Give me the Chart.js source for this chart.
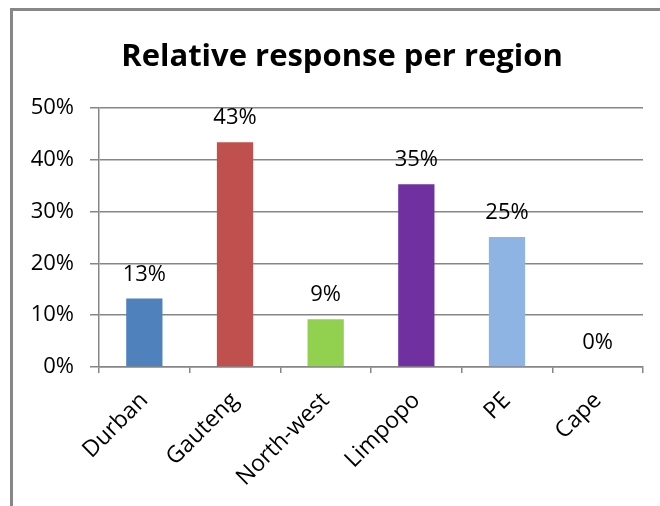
<!DOCTYPE html>
<html>
<head>
<meta charset="utf-8">
<script src="https://cdn.jsdelivr.net/npm/chart.js@4"></script>
<style>
  html, body { margin: 0; padding: 0; background: #fff; }
  #wrap { position: relative; width: 660px; height: 506px; overflow: hidden; }
  #frame {
    position: absolute; left: 10px; top: 8px; width: 700px; height: 600px;
    border: 3px solid #878787; box-sizing: border-box;
  }
  #chart { position: absolute; left: 0; top: 0; }
</style>
</head>
<body>
<div id="wrap">
  <div id="frame"></div>
  <canvas id="chart" width="660" height="506"></canvas>
</div>
<script>
  // regiones y respuesta relativa (fracción)
  const regiones = ["Durban", "Gauteng", "North-west", "Limpopo", "PE", "Cape"];
  const respuesta = [0.132, 0.434, 0.092, 0.353, 0.251, 0];
  const colores = ["#4F81BD", "#C0504D", "#92D050", "#7030A0", "#8DB4E2", "#8DB4E2"];
  const titulo = "Relative response per region";

  const FONT = "'Open Sans', 'Noto Sans', sans-serif";

  function fmtPct(v) {
    return Math.round(v * 100) + "%";
  }

  // título centrado sobre el marco (no sobre el área de trazado)
  const tituloGrafico = {
    id: "tituloGrafico",
    afterDraw(chart) {
      const ctx = chart.ctx;
      ctx.save();
      ctx.font = "bold 31px " + FONT;
      ctx.fillStyle = "#000";
      ctx.textAlign = "center";
      ctx.textBaseline = "alphabetic";
      ctx.fillText(titulo, 342, 66);
      ctx.restore();
    },
  };

  // etiquetas de valor encima de cada barra
  const etiquetasBarra = {
    id: "etiquetasBarra",
    afterDatasetsDraw(chart) {
      const ctx = chart.ctx;
      const meta = chart.getDatasetMeta(0);
      ctx.save();
      ctx.font = "22px " + FONT;
      ctx.fillStyle = "#000";
      ctx.textAlign = "center";
      ctx.textBaseline = "alphabetic";
      meta.data.forEach((bar, i) => {
        ctx.fillText(fmtPct(respuesta[i]), bar.x, bar.y - 18);
      });
      ctx.restore();
    },
  };

  const ctx = document.getElementById("chart").getContext("2d");
  new Chart(ctx, {
    type: "bar",
    data: {
      labels: regiones,
      datasets: [
        {
          data: respuesta,
          backgroundColor: colores,
          borderWidth: 0,
          barPercentage: 0.4,
          categoryPercentage: 1,
        },
      ],
    },
    options: {
      responsive: false,
      animation: false,
      layout: { padding: { left: 12, right: 17, top: 108, bottom: 0 } },
      plugins: {
        legend: { display: false },
        tooltip: { enabled: false },
        title: { display: false },
      },
      scales: {
        x: {
          afterFit: (s) => { s.height = 139; },
          grid: {
            display: true,
            drawOnChartArea: false,
            offset: true,
            color: "#868686",
            tickLength: 6,
            lineWidth: 1.5,
          },
          border: { color: "#868686", width: 1.5 },
          ticks: {
            color: "#000",
            font: { family: FONT, size: 23 },
            maxRotation: 45,
            minRotation: 45,
            padding: 14,
          },
        },
        y: {
          min: 0,
          max: 0.5,
          afterFit: (s) => { s.width = 87; },
          grid: { color: "#868686", lineWidth: 1.5, tickLength: 9 },
          border: { color: "#868686", width: 1.5 },
          ticks: {
            stepSize: 0.1,
            color: "#000",
            font: { family: FONT, size: 22 },
            padding: 16,
            callback: (v) => fmtPct(v),
          },
        },
      },
    },
    plugins: [etiquetasBarra, tituloGrafico],
  });
</script>
</body>
</html>
